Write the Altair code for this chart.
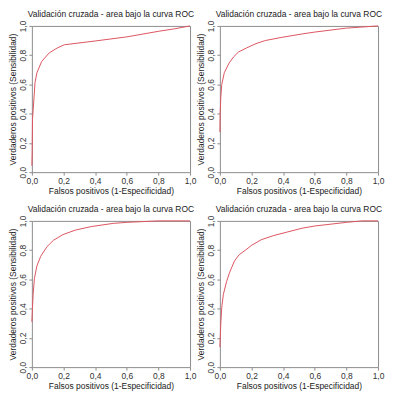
import altair as alt
import pandas as pd

# ROC curves
fpr_1 = [0.0, 0.002, 0.004, 0.02, 0.032, 0.062, 0.11, 0.16, 0.205, 0.4, 0.6, 0.8, 0.9, 1.0]
tpr_1 = [0.044, 0.14, 0.36, 0.614, 0.68, 0.757, 0.816, 0.849, 0.871, 0.897, 0.925, 0.963, 0.98, 1.0]

fpr_2 = [0.0, 0.002, 0.006, 0.012, 0.028, 0.058, 0.088, 0.118, 0.168, 0.228, 0.287, 0.387, 0.52, 0.6, 0.8, 1.0]
tpr_2 = [0.274, 0.41, 0.515, 0.60, 0.68, 0.746, 0.79, 0.822, 0.849, 0.879, 0.90, 0.921, 0.945, 0.958, 0.985, 1.0]

fpr_3 = [0.0, 0.004, 0.008, 0.016, 0.032, 0.056, 0.096, 0.136, 0.196, 0.275, 0.375, 0.515, 0.6, 0.8, 1.0]
tpr_3 = [0.31, 0.41, 0.497, 0.606, 0.693, 0.758, 0.824, 0.867, 0.906, 0.937, 0.961, 0.983, 0.99, 1.0, 1.0]

fpr_4 = [0.0, 0.006, 0.012, 0.022, 0.042, 0.062, 0.092, 0.122, 0.162, 0.202, 0.261, 0.341, 0.42, 0.52, 0.6, 0.8, 0.9, 1.0]
tpr_4 = [0.137, 0.30, 0.41, 0.497, 0.584, 0.649, 0.725, 0.769, 0.80, 0.834, 0.871, 0.90, 0.922, 0.95, 0.965, 0.99, 1.0, 1.0]

ticks = [0.0, 0.2, 0.4, 0.6, 0.8, 1.0]
title_text = "Validación cruzada - area bajo la curva ROC"
x_title = "Falsos positivos (1-Especificidad)"
y_title = "Verdaderos positivos (Sensibilidad)"

FONT = "Liberation Sans Narrow, Liberation Sans, Arial, sans-serif"
W, H = 159, 147
label_expr = "replace(format(datum.value, '.1f'), '.', ',')"


def panel(fpr, tpr):
    df = pd.DataFrame({"fpr": fpr, "tpr": tpr, "i": list(range(len(fpr)))})
    return (
        alt.Chart(df)
        .mark_line(color="#dc5560", strokeWidth=1)
        .encode(
            x=alt.X("fpr:Q", scale=alt.Scale(domain=[0, 1], nice=False),
                    axis=alt.Axis(values=ticks, title=x_title, labelExpr=label_expr,
                                  labelPadding=1, titlePadding=2)),
            y=alt.Y("tpr:Q", scale=alt.Scale(domain=[0, 1], nice=False),
                    axis=alt.Axis(values=ticks, title=y_title, labelExpr=label_expr,
                                  labelAngle=270, labelAlign="center",
                                  labelBaseline="bottom", labelPadding=1,
                                  titlePadding=1)),
            order="i:Q",
        )
        .properties(width=W, height=H,
                    title=alt.TitleParams(title_text, fontSize=8.5, font=FONT,
                                          fontWeight="normal", color="#222",
                                          offset=2))
    )


chart = (
    alt.concat(panel(fpr_1, tpr_1), panel(fpr_2, tpr_2),
               panel(fpr_3, tpr_3), panel(fpr_4, tpr_4),
               columns=2, spacing={"row": 49, "column": 30}, bounds="flush")
    .properties(padding=0)
    .configure_view(stroke="#8c8c8c", strokeWidth=1)
    .configure_axis(grid=False, domain=False, tickColor="#8c8c8c", tickSize=3,
                    labelFont=FONT, titleFont=FONT, labelFontSize=8.5,
                    titleFontSize=8.5, labelColor="#333", titleColor="#222",
                    titleFontWeight="normal", labelFlush=False)
)

chart.save("out.html", embed_options={"renderer": "svg", "actions": False})
